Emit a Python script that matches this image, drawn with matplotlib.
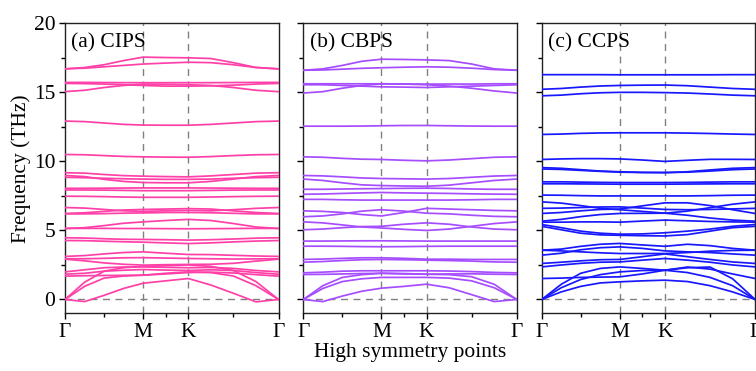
import numpy as np
import matplotlib
matplotlib.use('Agg')
import matplotlib.pyplot as plt

plt.rcParams['font.family'] = ['Liberation Serif', 'DejaVu Serif']
plt.rcParams['font.size'] = 15.5

# k-path: Gamma-M-K-Gamma (hexagonal), segment lengths
seg_len = [1 / np.sqrt(3), 1 / 3, 2 / 3]
k_labels = ['Γ', 'M', 'K', 'Γ']
k_nodes = np.concatenate([[0], np.cumsum(seg_len)])
# sample points: 3 inside G-M, 1 inside M-K, 3 inside K-G
k_grid = np.concatenate([
    k_nodes[0] + seg_len[0] * np.array([0, 0.25, 0.5, 0.75]),
    k_nodes[1] + seg_len[1] * np.array([0, 0.5]),
    k_nodes[2] + seg_len[2] * np.array([0, 0.25, 0.5, 0.75, 1.0]),
])

# frequencies (THz) at k_grid
cips_bands = [
    [16.7, 16.8, 17.0, 17.3, 17.55, 17.52, 17.5, 17.45, 17.15, 16.8, 16.7],
    [16.7, 16.75, 16.85, 16.95, 17.05, 17.12, 17.18, 17.15, 17.0, 16.8, 16.7],
    [15.72, 15.72, 15.71, 15.7, 15.7, 15.7, 15.7, 15.7, 15.71, 15.72, 15.72],
    [15.05, 15.15, 15.35, 15.5, 15.6, 15.58, 15.55, 15.5, 15.35, 15.15, 15.05],
    [15.65, 15.63, 15.6, 15.55, 15.5, 15.45, 15.45, 15.47, 15.52, 15.6, 15.65],
    [12.92, 12.88, 12.78, 12.68, 12.63, 12.62, 12.62, 12.68, 12.78, 12.88, 12.92],
    [10.5, 10.48, 10.42, 10.36, 10.33, 10.31, 10.3, 10.35, 10.42, 10.48, 10.5],
    [9.18, 9.15, 9.05, 8.97, 8.93, 8.9, 8.88, 8.95, 9.05, 9.15, 9.18],
    [8.98, 8.9, 8.7, 8.55, 8.47, 8.45, 8.45, 8.55, 8.72, 8.9, 8.98],
    [8.85, 8.82, 8.78, 8.74, 8.72, 8.7, 8.7, 8.72, 8.78, 8.82, 8.85],
    [8.05, 8.05, 8.06, 8.07, 8.08, 8.08, 8.08, 8.07, 8.06, 8.05, 8.05],
    [7.93, 7.93, 7.92, 7.9, 7.88, 7.88, 7.88, 7.9, 7.92, 7.93, 7.93],
    [7.48, 7.47, 7.45, 7.42, 7.4, 7.4, 7.4, 7.42, 7.45, 7.47, 7.48],
    [6.66, 6.62, 6.52, 6.42, 6.38, 6.42, 6.45, 6.42, 6.5, 6.6, 6.66],
    [6.23, 6.28, 6.38, 6.48, 6.52, 6.55, 6.58, 6.55, 6.42, 6.3, 6.23],
    [6.2, 6.2, 6.22, 6.25, 6.27, 6.3, 6.3, 6.28, 6.24, 6.2, 6.2],
    [5.14, 5.2, 5.35, 5.52, 5.62, 5.72, 5.8, 5.72, 5.5, 5.25, 5.14],
    [5.15, 5.15, 5.15, 5.14, 5.14, 5.13, 5.12, 5.13, 5.14, 5.15, 5.15],
    [4.47, 4.45, 4.4, 4.36, 4.35, 4.33, 4.3, 4.33, 4.38, 4.44, 4.47],
    [4.27, 4.26, 4.22, 4.18, 4.15, 4.1, 4.05, 4.1, 4.17, 4.23, 4.27],
    [3.12, 3.18, 3.3, 3.4, 3.45, 3.35, 3.26, 3.25, 3.2, 3.15, 3.12],
    [2.95, 2.95, 2.98, 3.02, 3.03, 3.0, 2.97, 2.95, 2.93, 2.94, 2.95],
    [2.92, 2.8, 2.65, 2.55, 2.49, 2.52, 2.54, 2.55, 2.62, 2.78, 2.92],
    [2.0, 2.15, 2.3, 2.35, 2.36, 2.33, 2.3, 2.32, 2.25, 2.1, 2.0],
    [1.83, 1.9, 2.05, 2.12, 2.17, 2.13, 2.1, 2.15, 2.1, 1.95, 1.83],
    [1.69, 1.72, 1.74, 1.75, 1.76, 1.85, 1.95, 1.98, 1.92, 1.8, 1.69],
    [0.0, -0.15, 0.3, 0.8, 1.18, 1.35, 1.52, 1.05, 0.45, -0.17, 0.0],
    [0.0, 0.95, 1.55, 1.7, 1.76, 1.9, 2.0, 1.95, 1.7, 1.0, 0.0],
    [0.0, 1.25, 2.05, 2.3, 2.4, 2.45, 2.5, 2.4, 2.1, 1.3, 0.0],
]

cbps_bands = [
    [16.6, 16.7, 16.95, 17.25, 17.4, 17.38, 17.35, 17.3, 17.05, 16.7, 16.6],
    [16.6, 16.62, 16.68, 16.74, 16.78, 16.82, 16.85, 16.82, 16.75, 16.65, 16.6],
    [15.62, 15.62, 15.62, 15.62, 15.62, 15.6, 15.6, 15.6, 15.6, 15.62, 15.62],
    [14.95, 15.05, 15.3, 15.5, 15.62, 15.6, 15.55, 15.45, 15.3, 15.1, 14.95],
    [15.55, 15.55, 15.5, 15.45, 15.4, 15.38, 15.35, 15.4, 15.45, 15.5, 15.55],
    [12.55, 12.55, 12.55, 12.56, 12.58, 12.6, 12.6, 12.58, 12.56, 12.55, 12.55],
    [10.33, 10.3, 10.22, 10.16, 10.14, 10.08, 10.04, 10.1, 10.2, 10.3, 10.33],
    [8.98, 8.95, 8.88, 8.8, 8.76, 8.74, 8.72, 8.76, 8.85, 8.94, 8.98],
    [8.72, 8.62, 8.45, 8.3, 8.25, 8.22, 8.2, 8.28, 8.45, 8.62, 8.72],
    [7.98, 7.98, 8.0, 8.02, 8.03, 8.05, 8.06, 8.04, 8.0, 7.98, 7.98],
    [7.62, 7.64, 7.68, 7.72, 7.75, 7.72, 7.7, 7.68, 7.65, 7.63, 7.62],
    [7.25, 7.25, 7.22, 7.2, 7.2, 7.2, 7.2, 7.2, 7.22, 7.25, 7.25],
    [6.42, 6.38, 6.3, 6.15, 6.05, 6.3, 6.6, 6.55, 6.5, 6.45, 6.42],
    [5.99, 6.05, 6.2, 6.4, 6.5, 6.4, 6.25, 6.2, 6.1, 6.02, 5.99],
    [5.62, 5.55, 5.4, 5.25, 5.18, 5.08, 5.0, 5.1, 5.3, 5.5, 5.62],
    [5.05, 5.1, 5.2, 5.28, 5.3, 5.45, 5.55, 5.45, 5.25, 5.1, 5.05],
    [4.23, 4.23, 4.24, 4.25, 4.25, 4.24, 4.23, 4.23, 4.23, 4.23, 4.23],
    [3.86, 3.86, 3.85, 3.83, 3.82, 3.83, 3.85, 3.86, 3.86, 3.86, 3.86],
    [2.9, 2.93, 2.98, 3.02, 3.02, 2.98, 2.92, 2.92, 2.9, 2.9, 2.9],
    [2.7, 2.75, 2.82, 2.88, 2.9, 2.88, 2.85, 2.82, 2.78, 2.72, 2.7],
    [1.93, 1.98, 2.05, 2.08, 2.08, 2.08, 2.08, 2.06, 2.02, 1.96, 1.93],
    [1.81, 1.82, 1.85, 1.88, 1.9, 1.88, 1.83, 1.85, 1.86, 1.83, 1.81],
    [0.0, -0.15, 0.25, 0.6, 0.82, 0.95, 1.11, 0.85, 0.35, -0.15, 0.0],
    [0.0, 0.8, 1.3, 1.5, 1.6, 1.6, 1.6, 1.55, 1.35, 0.85, 0.0],
    [0.0, 1.0, 1.6, 1.8, 1.9, 1.85, 1.83, 1.8, 1.65, 1.1, 0.0],
]

ccps_bands = [
    [16.28, 16.28, 16.28, 16.28, 16.27, 16.27, 16.27, 16.27, 16.27, 16.28, 16.28],
    [15.22, 15.28, 15.38, 15.46, 15.5, 15.52, 15.53, 15.48, 15.38, 15.28, 15.22],
    [14.75, 14.8, 14.9, 14.97, 15.0, 15.0, 14.98, 14.95, 14.88, 14.8, 14.75],
    [11.95, 11.98, 12.03, 12.06, 12.07, 12.07, 12.07, 12.05, 12.02, 11.98, 11.95],
    [10.14, 10.18, 10.2, 10.2, 10.18, 10.1, 10.0, 10.08, 10.15, 10.15, 10.14],
    [9.55, 9.5, 9.4, 9.3, 9.25, 9.2, 9.18, 9.25, 9.38, 9.5, 9.55],
    [9.45, 9.42, 9.35, 9.28, 9.22, 9.2, 9.2, 9.22, 9.3, 9.4, 9.45],
    [8.52, 8.52, 8.5, 8.48, 8.47, 8.47, 8.47, 8.48, 8.5, 8.52, 8.52],
    [8.38, 8.38, 8.37, 8.36, 8.35, 8.35, 8.35, 8.36, 8.37, 8.38, 8.38],
    [7.56, 7.55, 7.52, 7.5, 7.5, 7.5, 7.5, 7.5, 7.52, 7.55, 7.56],
    [7.07, 6.98, 6.8, 6.6, 6.5, 6.38, 6.25, 6.4, 6.65, 6.9, 7.07],
    [6.23, 6.3, 6.42, 6.52, 6.55, 6.78, 7.0, 7.0, 6.8, 6.5, 6.23],
    [6.6, 6.62, 6.66, 6.7, 6.71, 6.62, 6.52, 6.5, 6.52, 6.56, 6.6],
    [5.67, 5.8, 6.0, 6.15, 6.23, 6.24, 6.25, 6.1, 5.9, 5.75, 5.67],
    [5.6, 5.6, 5.62, 5.62, 5.6, 5.68, 5.75, 5.7, 5.65, 5.62, 5.6],
    [5.43, 5.2, 4.95, 4.8, 4.73, 4.75, 4.83, 4.95, 5.1, 5.3, 5.43],
    [5.3, 5.05, 4.8, 4.68, 4.65, 4.62, 4.6, 4.7, 4.95, 5.2, 5.3],
    [3.57, 3.65, 3.85, 4.0, 4.06, 3.95, 3.85, 4.0, 3.9, 3.7, 3.57],
    [3.21, 3.35, 3.6, 3.75, 3.81, 3.7, 3.52, 3.45, 3.4, 3.3, 3.21],
    [3.57, 3.52, 3.45, 3.38, 3.33, 3.33, 3.33, 3.4, 3.5, 3.55, 3.57],
    [2.61, 2.7, 2.8, 2.88, 2.9, 3.1, 3.3, 3.1, 2.9, 2.72, 2.61],
    [2.36, 2.5, 2.62, 2.7, 2.72, 2.85, 2.97, 2.85, 2.7, 2.5, 2.36],
    [1.52, 1.55, 1.6, 1.62, 1.64, 1.85, 2.12, 2.35, 2.2, 1.85, 1.52],
    [0.0, 0.55, 0.95, 1.2, 1.28, 1.35, 1.4, 1.3, 1.0, 0.55, 0.0],
    [0.0, 0.85, 1.45, 1.8, 2.0, 2.1, 2.12, 1.95, 1.6, 1.0, 0.0],
    [0.0, 1.1, 1.9, 2.25, 2.36, 2.25, 2.12, 2.3, 2.35, 1.5, 0.0],
]

panels = [
    ('(a) CIPS', cips_bands, '#FF40A8'),
    ('(b) CBPS', cbps_bands, '#A64DFF'),
    ('(c) CCPS', ccps_bands, '#1818FF'),
]

fig = plt.figure(figsize=(7.56, 3.71), dpi=100)
lefts = [0.086, 0.4012, 0.7165]
axes = []
for left, (title, bands, color) in zip(lefts, panels):
    ax = fig.add_axes([left, 0.1555, 0.2824, 0.7817])
    axes.append(ax)
    for b in bands:
        ax.plot(k_grid, b, color=color, lw=1.25, solid_joinstyle='round', zorder=3)
    for kx in k_nodes[1:3]:
        ax.axvline(kx, color='gray', lw=1.0, ls=(0, (5, 4)), zorder=1)
    ax.axhline(0, color='gray', lw=1.0, ls=(0, (5, 4)), zorder=1)
    ax.set_xlim(k_nodes[0], k_nodes[-1])
    ax.set_ylim(-1, 20)
    ax.set_xticks(k_nodes)
    ax.set_xticklabels(k_labels)
    ax.set_xticks((k_nodes[:-1] + k_nodes[1:]) / 2, minor=True)
    ax.set_yticks([0, 5, 10, 15, 20])
    ax.set_yticks([2.5, 7.5, 12.5, 17.5], minor=True)
    ax.tick_params(which='major', direction='out', length=4, width=1.0, pad=3)
    ax.tick_params(which='minor', direction='out', length=3, width=1.0)
    for s in ax.spines.values():
        s.set_linewidth(1.0)
        s.set_color('#222222')
    ax.text(0.03, 0.965, title, transform=ax.transAxes, ha='left', va='top')

axes[0].set_ylabel('Frequency (THz)', labelpad=2)
for ax in axes[1:]:
    ax.set_yticklabels([])
axes[1].set_xlabel('High symmetry points', labelpad=1)

fig.savefig('out.png', dpi=100)
